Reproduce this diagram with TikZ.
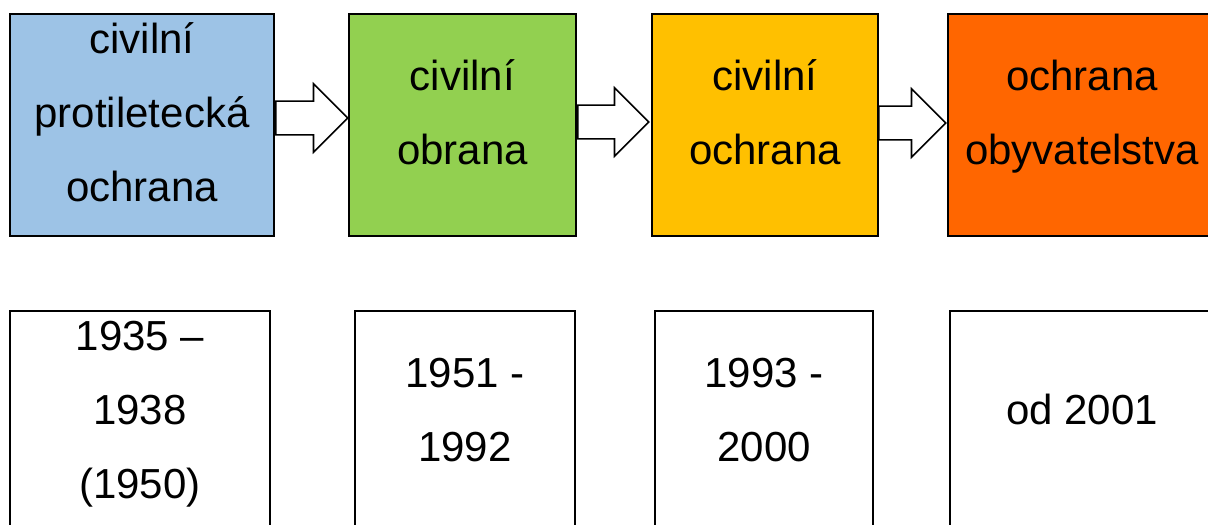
\documentclass[tikz,border=0pt]{standalone}
\usepackage{fontspec}
\setmainfont{Liberation Sans}
\usetikzlibrary{shapes.arrows}

\definecolor{stageblue}{HTML}{9DC3E6}
\definecolor{stagegreen}{HTML}{92D050}
\definecolor{stageyellow}{HTML}{FFC000}
\definecolor{stageorange}{HTML}{FF6600}

\tikzset{
  stage/.style={draw, line width=1pt, fill=#1, minimum height=111pt,
    inner sep=0pt, align=center, text depth=12.5pt,
    font=\fontsize{21}{37}\selectfont},
  period/.style={draw, line width=1pt, fill=white, minimum height=124.5pt,
    inner sep=0pt, align=center, text depth=26pt,
    font=\fontsize{21}{37}\selectfont},
  blockarrow/.style={single arrow, draw, fill=white, line width=0.8pt,
    minimum height=#1, inner sep=0pt, text height=8pt, text depth=8pt,
    single arrow head extend=8.75pt, anchor=tail},
}

\begin{document}
\begin{tikzpicture}[x=0.5pt,y=-0.5pt]
    \useasboundingbox (0,0) rectangle (1208,524);
    \clip (0,0) rectangle (1208,524);

    % stages
    \node[stage=stageblue, minimum width=132pt] (s1) at (142,125) {civilní\\protiletecká\\ochrana};
    \node[stage=stagegreen, minimum width=113.5pt] (s2) at (462.5,125) {civilní\\obrana};
    \node[stage=stageyellow, minimum width=113pt] (s3) at (765,125) {civilní\\ochrana};
    \node[stage=stageorange, minimum width=134pt] (s4) at (1082,125) {ochrana\\obyvatelstva};

    % arrows between stages
    \node[blockarrow=36pt] (a1) at (275,118) {};
    \node[blockarrow=35.5pt] (a2) at (577,122) {};
    \node[blockarrow=33.5pt] (a3) at (878,123) {};

    % years
    \node[period, minimum width=130pt] (p1) at (140,435.5) {1935 –\\1938\\(1950)};
    \node[period, minimum width=110pt] (p2) at (465,435.5) {1951 -\\1992};
    \node[period, minimum width=109pt] (p3) at (764,435.5) {1993 -\\2000};
    \node[period, minimum width=132pt] (p4) at (1082,435.5) {od 2001};
\end{tikzpicture}
\end{document}
